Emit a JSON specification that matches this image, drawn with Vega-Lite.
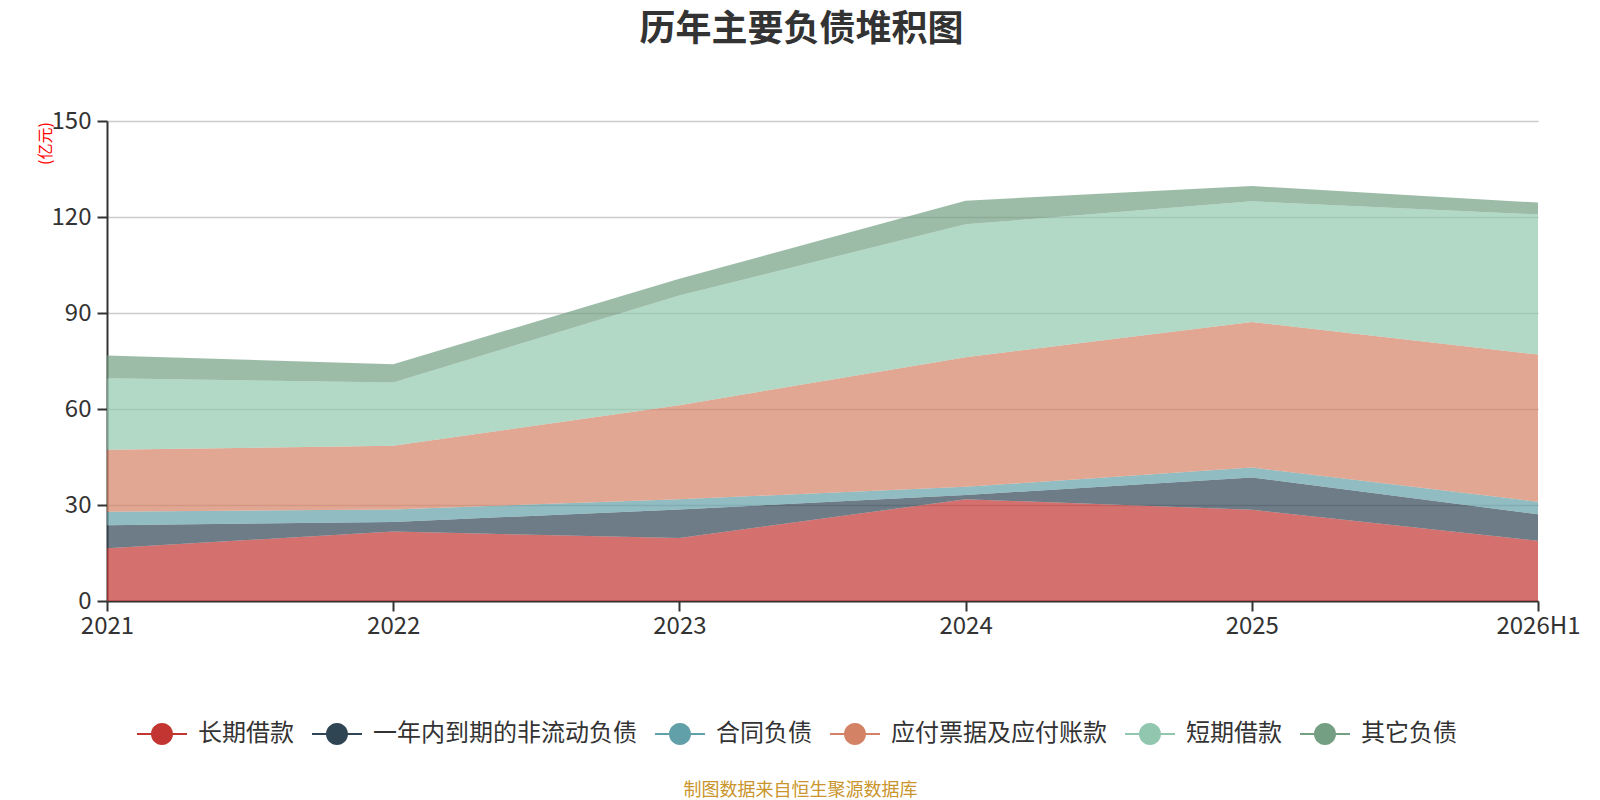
{
  "$schema": "https://vega.github.io/schema/vega-lite/v6.json",
  "autosize": {"type": "none"},
  "padding": {"left": 107, "top": 121, "right": 62, "bottom": 199},
  "width": 1431,
  "height": 480,
  "title": {
    "text": "历年主要负债堆积图",
    "font": "Noto Sans CJK SC",
    "fontSize": 36,
    "fontWeight": "bold",
    "color": "#333333",
    "anchor": "middle",
    "frame": "group",
    "dx": -21,
    "offset": 60
  },
  "data": {
    "values": [
      {"year": "2021", "item": "长期借款", "ord": 1, "value": 16.5},
      {"year": "2021", "item": "一年内到期的非流动负债", "ord": 2, "value": 7.2},
      {"year": "2021", "item": "合同负债", "ord": 3, "value": 4.2},
      {"year": "2021", "item": "应付票据及应付账款", "ord": 4, "value": 19.4},
      {"year": "2021", "item": "短期借款", "ord": 5, "value": 22.3},
      {"year": "2021", "item": "其它负债", "ord": 6, "value": 7.1},
      {"year": "2022", "item": "长期借款", "ord": 1, "value": 21.7},
      {"year": "2022", "item": "一年内到期的非流动负债", "ord": 2, "value": 3.0},
      {"year": "2022", "item": "合同负债", "ord": 3, "value": 3.9},
      {"year": "2022", "item": "应付票据及应付账款", "ord": 4, "value": 19.9},
      {"year": "2022", "item": "短期借款", "ord": 5, "value": 19.8},
      {"year": "2022", "item": "其它负债", "ord": 6, "value": 5.7},
      {"year": "2023", "item": "长期借款", "ord": 1, "value": 19.7},
      {"year": "2023", "item": "一年内到期的非流动负债", "ord": 2, "value": 8.9},
      {"year": "2023", "item": "合同负债", "ord": 3, "value": 3.2},
      {"year": "2023", "item": "应付票据及应付账款", "ord": 4, "value": 29.4},
      {"year": "2023", "item": "短期借款", "ord": 5, "value": 34.3},
      {"year": "2023", "item": "其它负债", "ord": 6, "value": 5.2},
      {"year": "2024", "item": "长期借款", "ord": 1, "value": 31.8},
      {"year": "2024", "item": "一年内到期的非流动负债", "ord": 2, "value": 1.3},
      {"year": "2024", "item": "合同负债", "ord": 3, "value": 2.6},
      {"year": "2024", "item": "应付票据及应付账款", "ord": 4, "value": 40.5},
      {"year": "2024", "item": "短期借款", "ord": 5, "value": 41.5},
      {"year": "2024", "item": "其它负债", "ord": 6, "value": 7.4},
      {"year": "2025", "item": "长期借款", "ord": 1, "value": 28.5},
      {"year": "2025", "item": "一年内到期的非流动负债", "ord": 2, "value": 10.1},
      {"year": "2025", "item": "合同负债", "ord": 3, "value": 3.1},
      {"year": "2025", "item": "应付票据及应付账款", "ord": 4, "value": 45.5},
      {"year": "2025", "item": "短期借款", "ord": 5, "value": 37.7},
      {"year": "2025", "item": "其它负债", "ord": 6, "value": 4.8},
      {"year": "2026H1", "item": "长期借款", "ord": 1, "value": 18.8},
      {"year": "2026H1", "item": "一年内到期的非流动负债", "ord": 2, "value": 8.3},
      {"year": "2026H1", "item": "合同负债", "ord": 3, "value": 3.9},
      {"year": "2026H1", "item": "应付票据及应付账款", "ord": 4, "value": 46.0},
      {"year": "2026H1", "item": "短期借款", "ord": 5, "value": 43.8},
      {"year": "2026H1", "item": "其它负债", "ord": 6, "value": 3.7}
    ]
  },
  "mark": {"type": "area", "opacity": 0.7, "line": false},
  "encoding": {
    "x": {
      "field": "year",
      "type": "ordinal",
      "scale": {"type": "point", "padding": 0},
      "axis": {
        "title": "制图数据来自恒生聚源数据库",
        "titleFont": "Noto Sans CJK SC",
        "titleFontSize": 18,
        "titleFontWeight": "normal",
        "titleColor": "#c9952c",
        "titleX": 693,
        "titleY": 189,
        "titleAnchor": null,
        "titleAlign": "center",
        "titleBaseline": "middle",
        "labelAngle": 0,
        "labelFont": "Noto Sans CJK SC",
        "labelFontSize": 24,
        "labelColor": "#333333",
        "labelPadding": 3,
        "labelOverlap": false,
        "labelBound": false,
        "labelFlush": false,
        "domainColor": "#333333",
        "domainWidth": 2,
        "tickColor": "#333333",
        "tickWidth": 2,
        "tickSize": 10,
        "grid": false
      }
    },
    "y": {
      "field": "value",
      "type": "quantitative",
      "aggregate": "sum",
      "stack": "zero",
      "scale": {"domain": [0, 150], "nice": false},
      "axis": {
        "title": "(亿元)",
        "titleFont": "Noto Sans CJK SC",
        "titleFontSize": 16,
        "titleFontWeight": "normal",
        "titleColor": "#ff0000",
        "titleAngle": -90,
        "titleX": -62,
        "titleY": 22,
        "titleAlign": "center",
        "titleBaseline": "middle",
        "values": [0, 30, 60, 90, 120, 150],
        "labelFont": "Noto Sans CJK SC",
        "labelFontSize": 24,
        "labelColor": "#333333",
        "labelPadding": 6,
        "domainColor": "#333333",
        "domainWidth": 2,
        "tickColor": "#333333",
        "tickWidth": 2,
        "tickSize": 10,
        "gridColor": "#cccccc",
        "gridWidth": 1.5
      }
    },
    "color": {
      "field": "item",
      "type": "nominal",
      "scale": {
        "domain": ["长期借款", "一年内到期的非流动负债", "合同负债", "应付票据及应付账款", "短期借款", "其它负债"],
        "range": ["#c23531", "#2f4554", "#61a0a8", "#d48265", "#91c7ae", "#749f83"]
      },
      "legend": {
        "title": null,
        "orient": "none",
        "direction": "horizontal",
        "legendX": 43,
        "legendY": 601,
        "padding": 0,
        "columns": 6,
        "columnPadding": 18,
        "symbolType": "M-2.27,-0.09L-0.99,-0.09L-0.99,0.09L-2.27,0.09Z M0.99,-0.09L2.27,-0.09L2.27,0.09L0.99,0.09Z M1,0A1,1 0 1,1 -1,0A1,1 0 1,1 1,0Z",
        "symbolSize": 484,
        "symbolOpacity": 1,
        "symbolStrokeWidth": 0,
        "labelFont": "Noto Sans CJK SC",
        "labelFontSize": 24,
        "labelColor": "#333333",
        "labelOffset": 24,
        "labelLimit": 400
      }
    },
    "order": {"field": "ord", "type": "quantitative"}
  },
  "config": {
    "view": {"stroke": null},
    "font": "Noto Sans CJK SC"
  }
}
